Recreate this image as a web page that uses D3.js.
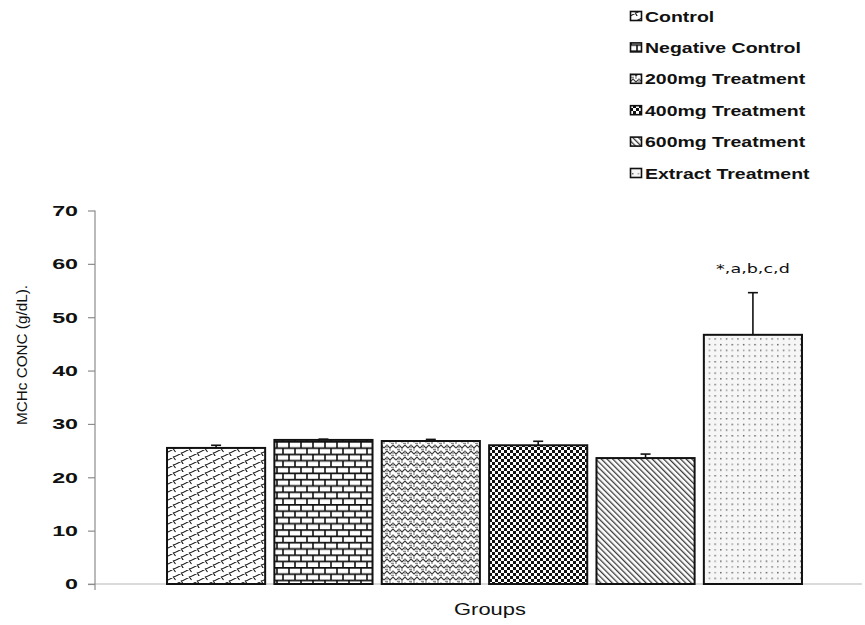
<!DOCTYPE html>
<html>
<head>
<meta charset="utf-8">
<script src="https://cdn.jsdelivr.net/npm/d3@7"></script>
<style>
  html, body { margin: 0; padding: 0; background: #fff; }
  svg { display: block; font-family: "Liberation Sans", Arial, sans-serif; }
</style>
</head>
<body>
<svg id="chart" width="865" height="625"></svg>
<script>
// Group means and standard errors for MCHc concentration (g/dL)
const groups = ["Control", "Negative Control", "200mg Treatment", "400mg Treatment", "600mg Treatment", "Extract Treatment"];
const means  = [25.5, 27.0, 26.8, 26.0, 23.6, 46.7];
const errors = [0.5, 0.15, 0.3, 0.75, 0.75, 7.9];
const patternIds = ["shingle", "brick", "weave", "checker", "diag", "dots"];
const yTicks = [0, 10, 20, 30, 40, 50, 60, 70];
const annotations = [
  { group: "Extract Treatment", text: "*,a,b,c,d" }
];

const svg = d3.select("#chart");
const defs = svg.append("defs");

// ---- fill patterns ----
function pattern(id, w, h, attrs) {
  const p = defs.append("pattern").attr("id", id)
    .attr("patternUnits", "userSpaceOnUse").attr("width", w).attr("height", h);
  if (attrs) Object.entries(attrs).forEach(([k, v]) => p.attr(k, v));
  p.append("rect").attr("width", w).attr("height", h).attr("fill", "#fff");
  return p;
}
// shingle: rising diagonals with short staggered cross strokes
{
  const p = pattern("shingle", 16, 8);
  p.append("path")
    .attr("d", "M-2,9 L18,-1 M-2,17 L18,7 M-2,1 L18,-9 M5,4.5 L8,9.5 M13,0.5 L15.5,4 M-3,0.5 L-0.5,4 M13,8.5 L15.5,12")
    .attr("fill", "none").attr("stroke", "#111").attr("stroke-width", 1.1);
}
// brick
{
  const p = pattern("brick", 12, 12.6);
  p.append("path").attr("d", "M0,0.8 H12 M0,7.1 H12 M1,0.8 V7.1 M7,7.1 V13.4 M7,-5.5 V0.8")
    .attr("fill", "none").attr("stroke", "#111").attr("stroke-width", 1.6);
}
// weave
{
  const p = pattern("weave", 12, 12);
  p.append("path").attr("d", "M0,4 L3,1 L6,4 L9,1 L12,4 M0,10 L3,7 L6,10 L9,7 L12,10")
    .attr("fill", "none").attr("stroke", "#3a3a3a").attr("stroke-width", 1.1);
  p.append("path").attr("d", "M3,1 V4 M9,7 V10 M6,4 L6,7 M0,10 L0,12 M12,10 V12 M1,5.5 H4 M7,11.5 H10")
    .attr("fill", "none").attr("stroke", "#8a8a8a").attr("stroke-width", 1.3);
}
// small checkerboard
{
  const p = pattern("checker", 6, 6);
  p.append("rect").attr("x", 0).attr("y", 0).attr("width", 3).attr("height", 3).attr("fill", "#111");
  p.append("rect").attr("x", 3).attr("y", 3).attr("width", 3).attr("height", 3).attr("fill", "#111");
}
// downward diagonal stripes
{
  const p = pattern("diag", 4, 4, { patternTransform: "rotate(-45)" });
  p.append("rect").attr("x", 0).attr("y", 0).attr("width", 1.3).attr("height", 4).attr("fill", "#3c3c3c");
}
// sparse dots
{
  const p = pattern("dots", 11.4, 11.4);
  p.select("rect").attr("fill", "#f6f6f6");
  [[2, 2, "#333"], [7.7, 2, "#777"], [2, 7.7, "#777"], [7.7, 7.7, "#444"]].forEach(([x, yy, c]) =>
    p.append("rect").attr("x", x).attr("y", yy).attr("width", 1.3).attr("height", 1.3).attr("fill", c));
}

// ---- scales ----
const y = d3.scaleLinear().domain([0, 70]).range([584, 210.5]);
const x = d3.scaleBand().domain(groups).range([162.4, 806.6]).paddingInner(0.086).paddingOuter(0.043);

// ---- axes ----
const axisGrey = "#8c8c8c";
svg.append("line").attr("x1", 88).attr("x2", 862).attr("y1", y(0)).attr("y2", y(0))
  .attr("stroke", "#b5b5b5").attr("stroke-width", 1.2);

const yAxis = svg.append("g").attr("transform", "translate(95,0)")
  .call(d3.axisLeft(y).tickValues(yTicks).tickSize(7).tickPadding(10).tickSizeOuter(0));
yAxis.select(".domain").remove();
yAxis.append("line").attr("x1", 0).attr("x2", 0).attr("y1", y(70)).attr("y2", y(0) + 6)
  .attr("stroke", axisGrey).attr("stroke-width", 1.2);
yAxis.selectAll(".tick line").attr("stroke", axisGrey).attr("stroke-width", 1.2);
yAxis.selectAll(".tick text")
  .attr("x", 0)
  .attr("transform", "translate(-17,0) scale(1.55,1)")
  .attr("fill", "#111")
  .style("font-family", "'Liberation Sans', Arial, sans-serif")
  .style("font-weight", "bold")
  .style("font-size", "15px");

// ---- bars ----
const data = groups.map((g, i) => ({ group: g, mean: means[i], err: errors[i], pat: patternIds[i] }));

svg.append("g").selectAll("rect").data(data).join("rect")
  .attr("x", d => x(d.group))
  .attr("y", d => y(d.mean))
  .attr("width", x.bandwidth())
  .attr("height", d => y(0) - y(d.mean))
  .attr("fill", d => `url(#${d.pat})`)
  .attr("stroke", "#111")
  .attr("stroke-width", 2);

// ---- error bars (upper only) ----
const eb = svg.append("g").attr("stroke", "#111").attr("stroke-width", 1.6);
data.forEach(d => {
  const cx = x(d.group) + x.bandwidth() / 2;
  eb.append("line").attr("x1", cx).attr("x2", cx).attr("y1", y(d.mean)).attr("y2", y(d.mean + d.err));
  eb.append("line").attr("x1", cx - 5).attr("x2", cx + 5).attr("y1", y(d.mean + d.err)).attr("y2", y(d.mean + d.err));
});

// ---- significance labels ----
annotations.forEach(a => {
  const i = groups.indexOf(a.group);
  const cx = x(a.group) + x.bandwidth() / 2;
  svg.append("text")
    .attr("transform", `translate(${cx},${y(means[i] + errors[i]) - 20}) scale(1.35,1)`)
    .attr("text-anchor", "middle")
    .attr("fill", "#111")
    .style("font-family", "'DejaVu Sans', Verdana, sans-serif")
    .style("font-size", "13px")
    .text(a.text);
});

// ---- axis titles ----
svg.append("text")
  .attr("transform", "translate(490,615) scale(1.37,1)")
  .attr("text-anchor", "middle")
  .attr("fill", "#111")
  .style("font-size", "16px")
  .text("Groups");

svg.append("text")
  .attr("transform", "translate(27,355) rotate(-90)")
  .attr("text-anchor", "middle")
  .attr("fill", "#111")
  .attr("textLength", 140)
  .attr("lengthAdjust", "spacingAndGlyphs")
  .style("font-size", "15px")
  .text("MCHc CONC (g/dL).");

// ---- legend ----
const legend = svg.append("g").attr("transform", "translate(630,0)");
groups.forEach((g, i) => {
  const base = 21.5 + i * 31.4;
  legend.append("rect")
    .attr("x", 0.5).attr("y", base - 10).attr("width", 11).attr("height", 9)
    .attr("fill", `url(#${patternIds[i]})`)
    .attr("stroke", "#111").attr("stroke-width", 1.6);
  legend.append("text")
    .attr("transform", `translate(15,${base}) scale(1.3,1)`)
    .attr("fill", "#111")
    .style("font-weight", "bold")
    .style("font-size", "15px")
    .text(g);
});
</script>
</body>
</html>
